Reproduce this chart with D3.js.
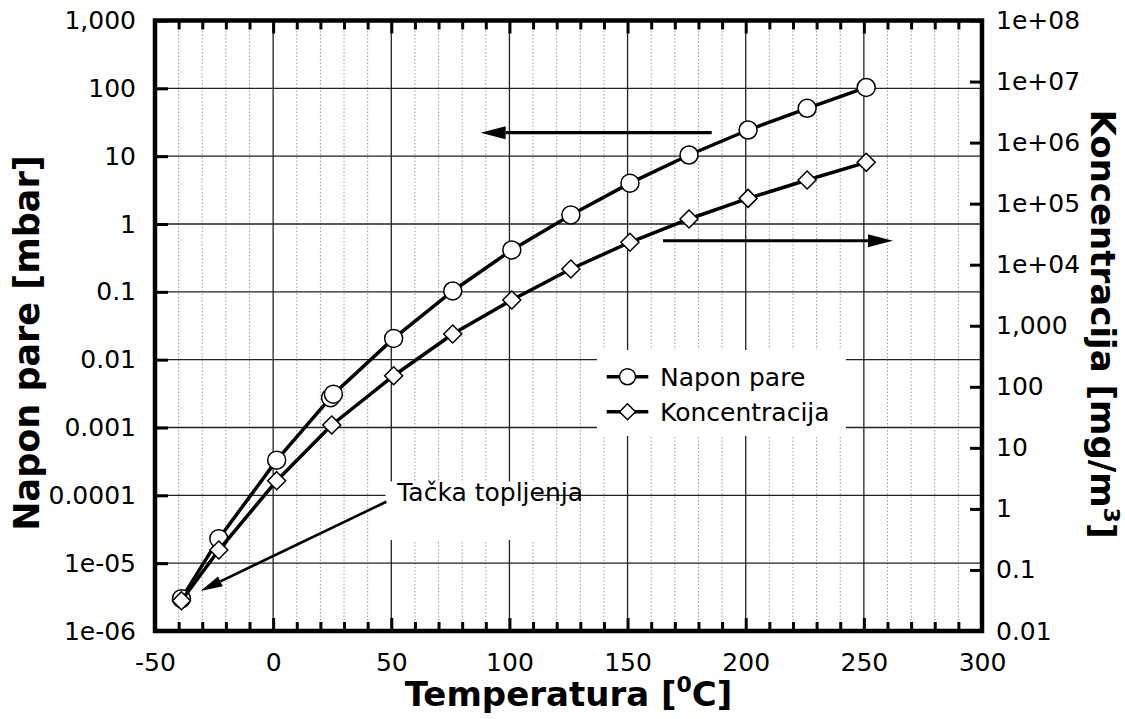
<!DOCTYPE html>
<html>
<head>
<meta charset="utf-8">
<script src="https://cdn.jsdelivr.net/npm/d3@7"></script>
<style>
  body { margin: 0; background: #fff; }
  text { font-family: "DejaVu Sans", Verdana, sans-serif; }
</style>
</head>
<body>
<div id="chart"></div>
<script>
// vapour pressure series (left axis, mbar)
var tempPressure = [-38.8, -23, 1.5, 24.3, 25.5, 51, 76, 101, 126, 151, 176, 201, 226, 251];
var pressure = [3.0e-6, 2.3e-5, 3.3e-4, 2.75e-3, 3.1e-3, 0.0206, 0.103, 0.414, 1.36, 4.0, 10.4, 24.3, 50.8, 103];

// saturation concentration series (right axis, mg/m3)
var tempConc = [-38.8, -23, 1.5, 24.8, 51, 76, 101, 126, 151, 176, 201, 226, 251];
var concentration = [0.0314, 0.212, 2.9, 23.7, 152, 733, 2640, 8500, 23300, 56100, 122000, 244000, 475000];

// tick values and labels
var xTicks = [-50, 0, 50, 100, 150, 200, 250, 300];
var xLabels = ["-50", "0", "50", "100", "150", "200", "250", "300"];
var leftTicks = [1e-6, 1e-5, 1e-4, 1e-3, 0.01, 0.1, 1, 10, 100, 1000];
var leftLabels = ["1e-06", "1e-05", "0.0001", "0.001", "0.01", "0.1", "1", "10", "100", "1,000"];
var rightTicks = [0.01, 0.1, 1, 10, 100, 1000, 1e4, 1e5, 1e6, 1e7, 1e8];
var rightLabels = ["0.01", "0.1", "1", "10", "100", "1,000", "1e+04", "1e+05", "1e+06", "1e+07", "1e+08"];

var legendNames = ["Napon pare", "Koncentracija"];

var svgwidth = 1125;
var svgheight = 719;
var margin = { top: 20.5, right: 143, bottom: 88, left: 155 };
var width = svgwidth - margin.left - margin.right;
var height = svgheight - margin.top - margin.bottom;

var svg = d3.select("#chart").append("svg")
  .attr("width", svgwidth)
  .attr("height", svgheight);

var chartgroup = svg.append("g")
  .attr("transform", `translate(${margin.left}, ${margin.top})`);

var xscale = d3.scaleLinear().domain([-50, 300]).range([0, width]);
var yleft = d3.scaleLog().domain([1e-6, 1000]).range([height, 0]);
var yright = d3.scaleLog().domain([0.01, 1e8]).range([height, 0]);

// minor dotted verticals every 10 degrees
var minorX = d3.range(-40, 300, 10).filter(d => d % 50 !== 0);
chartgroup.append("g").selectAll("line").data(minorX).enter()
  .append("line")
  .attr("x1", d => xscale(d)).attr("x2", d => xscale(d))
  .attr("y1", 0).attr("y2", height)
  .attr("stroke", "#9a9a9a")
  .attr("stroke-width", 1)
  .attr("stroke-dasharray", "1.5,2");

// solid grid
chartgroup.append("g").selectAll("line").data(xTicks.slice(1, -1)).enter()
  .append("line")
  .attr("x1", d => xscale(d)).attr("x2", d => xscale(d))
  .attr("y1", 0).attr("y2", height)
  .attr("stroke", "#222")
  .attr("stroke-width", 1.3);

chartgroup.append("g").selectAll("line").data(leftTicks.slice(1, -1)).enter()
  .append("line")
  .attr("x1", 0).attr("x2", width)
  .attr("y1", d => yleft(d)).attr("y2", d => yleft(d))
  .attr("stroke", "#222")
  .attr("stroke-width", 1.3);

// axes with inward ticks
var bottomMajor = d3.axisBottom(xscale).tickValues(xTicks).tickSizeInner(-13).tickSizeOuter(0).tickPadding(22)
  .tickFormat((d, i) => xLabels[i]);
var bottomMinor = d3.axisBottom(xscale).tickValues(minorX).tickSizeInner(-9).tickSizeOuter(0).tickFormat("");
var topMajor = d3.axisTop(xscale).tickValues(xTicks).tickSizeInner(-13).tickSizeOuter(0).tickFormat("");
var topMinor = d3.axisTop(xscale).tickValues(minorX).tickSizeInner(-9).tickSizeOuter(0).tickFormat("");
var leftAxis = d3.axisLeft(yleft).tickValues(leftTicks).tickSizeInner(-13).tickSizeOuter(0).tickPadding(19)
  .tickFormat((d, i) => leftLabels[i]);
var rightAxis = d3.axisRight(yright).tickValues(rightTicks).tickSizeInner(-12).tickSizeOuter(0).tickPadding(14)
  .tickFormat((d, i) => rightLabels[i]);

function styleAxis(g) {
  g.select(".domain").remove();
  g.selectAll(".tick line").attr("stroke", "#000").attr("stroke-width", 3);
  g.selectAll(".tick text").attr("font-size", "25px").attr("fill", "#000")
    .style("font-family", "'DejaVu Sans', Verdana, sans-serif");
}

chartgroup.append("g").attr("transform", `translate(0, ${height})`).call(bottomMinor).call(styleAxis);
chartgroup.append("g").attr("transform", `translate(0, ${height})`).call(bottomMajor).call(styleAxis);
chartgroup.append("g").call(topMinor).call(styleAxis);
chartgroup.append("g").call(topMajor).call(styleAxis);
chartgroup.append("g").call(leftAxis).call(styleAxis);
chartgroup.append("g").attr("transform", `translate(${width}, 0)`).call(rightAxis).call(styleAxis);

// frame
chartgroup.append("rect")
  .attr("x", 0).attr("y", 0)
  .attr("width", width).attr("height", height)
  .attr("fill", "none")
  .attr("stroke", "#000")
  .attr("stroke-width", 4.5);

// legend box
var legend = chartgroup.append("g").attr("transform", `translate(${597 - margin.left}, ${350 - margin.top})`);
legend.append("rect").attr("width", 249).attr("height", 86).attr("fill", "#fff");

// annotation label box
var noteLabel = chartgroup.append("g");
noteLabel.append("rect")
  .attr("x", xscale(47.5)).attr("y", yleft(1.6e-4))
  .attr("width", 150).attr("height", yleft(2.2e-5) - yleft(1.6e-4))
  .attr("fill", "#fff");
noteLabel.append("text")
  .attr("x", xscale(52.5))
  .attr("y", yleft(8.3e-5))
  .attr("font-size", "25px")
  .text("Tačka topljenja");

// arrows
function arrow(x1, y1, x2, y2, w, headLen, headW) {
  var ang = Math.atan2(y2 - y1, x2 - x1);
  var bx = x2 - headLen * Math.cos(ang), by = y2 - headLen * Math.sin(ang);
  chartgroup.append("line")
    .attr("x1", x1).attr("y1", y1).attr("x2", bx).attr("y2", by)
    .attr("stroke", "#000").attr("stroke-width", w);
  var px = -Math.sin(ang) * headW / 2, py = Math.cos(ang) * headW / 2;
  chartgroup.append("path")
    .attr("d", `M${x2},${y2}L${bx + px},${by + py}L${bx - px},${by - py}Z`)
    .attr("fill", "#000");
}
arrow(xscale(185.6), yleft(22.2), xscale(87.8), yleft(22.2), 3.2, 25, 13);
arrow(xscale(165), yright(24700), xscale(262.3), yright(24700), 3.2, 25, 13);
arrow(xscale(47.9), yleft(8.05e-5), xscale(-30.7), yleft(3.9e-6), 2.6, 22, 11);

// series
var pressureData = tempPressure.map((t, i) => ({ t: t, v: pressure[i] }));
var concData = tempConc.map((t, i) => ({ t: t, v: concentration[i] }));

var lineP = d3.line().x(d => xscale(d.t)).y(d => yleft(d.v));
var lineC = d3.line().x(d => xscale(d.t)).y(d => yright(d.v));

chartgroup.append("path").datum(pressureData)
  .attr("d", lineP).attr("fill", "none").attr("stroke", "#000").attr("stroke-width", 3.5);
chartgroup.selectAll(".pt-p").data(pressureData).enter()
  .append("circle").attr("class", "pt-p")
  .attr("cx", d => xscale(d.t)).attr("cy", d => yleft(d.v))
  .attr("r", 9).attr("fill", "#fff").attr("stroke", "#000").attr("stroke-width", 1.5);

chartgroup.append("path").datum(concData)
  .attr("d", lineC).attr("fill", "none").attr("stroke", "#000").attr("stroke-width", 3.5);
var diamond = "M0,-9L9,0L0,9L-9,0Z";
chartgroup.selectAll(".pt-c").data(concData).enter()
  .append("path").attr("class", "pt-c")
  .attr("transform", d => `translate(${xscale(d.t)}, ${yright(d.v)})`)
  .attr("d", diamond).attr("fill", "#fff").attr("stroke", "#000").attr("stroke-width", 1.5);

// legend entries
legendNames.forEach(function(name, i) {
  var row = legend.append("g").attr("transform", `translate(0, ${26.7 + i * 35})`);
  row.append("line").attr("x1", 9.7).attr("x2", 51.3).attr("y1", 0).attr("y2", 0)
    .attr("stroke", "#000").attr("stroke-width", 3.5);
  if (i === 0) {
    row.append("circle").attr("cx", 30.5).attr("cy", 0).attr("r", 8)
      .attr("fill", "#fff").attr("stroke", "#000").attr("stroke-width", 1.5);
  } else {
    row.append("path").attr("transform", "translate(30.5, 0)").attr("d", "M0,-8L8,0L0,8L-8,0Z")
      .attr("fill", "#fff").attr("stroke", "#000").attr("stroke-width", 1.5);
  }
  row.append("text").attr("x", 63).attr("y", 9).attr("font-size", "25px").text(name);
});

// axis titles
var bottomTitle = svg.append("text")
  .attr("x", margin.left + width / 2)
  .attr("y", 706)
  .attr("text-anchor", "middle")
  .attr("font-size", "34px")
  .attr("font-weight", "bold");
bottomTitle.append("tspan").text("Temperatura [");
bottomTitle.append("tspan").attr("dy", -14).attr("font-size", "22px").text("0");
bottomTitle.append("tspan").attr("dy", 14).text("C]");

svg.append("text")
  .attr("transform", `translate(39, 343) rotate(-90)`)
  .attr("text-anchor", "middle")
  .attr("font-size", "35px")
  .attr("font-weight", "bold")
  .text("Napon pare [mbar]");

var rightTitle = svg.append("text")
  .attr("transform", `translate(1091, 324) rotate(90)`)
  .attr("text-anchor", "middle")
  .attr("font-size", "34px")
  .attr("font-weight", "bold");
rightTitle.append("tspan").text("Koncentracija [mg/m");
rightTitle.append("tspan").attr("dy", -13).attr("font-size", "22px").text("3");
rightTitle.append("tspan").attr("dy", 13).text("]");
</script>
</body>
</html>
